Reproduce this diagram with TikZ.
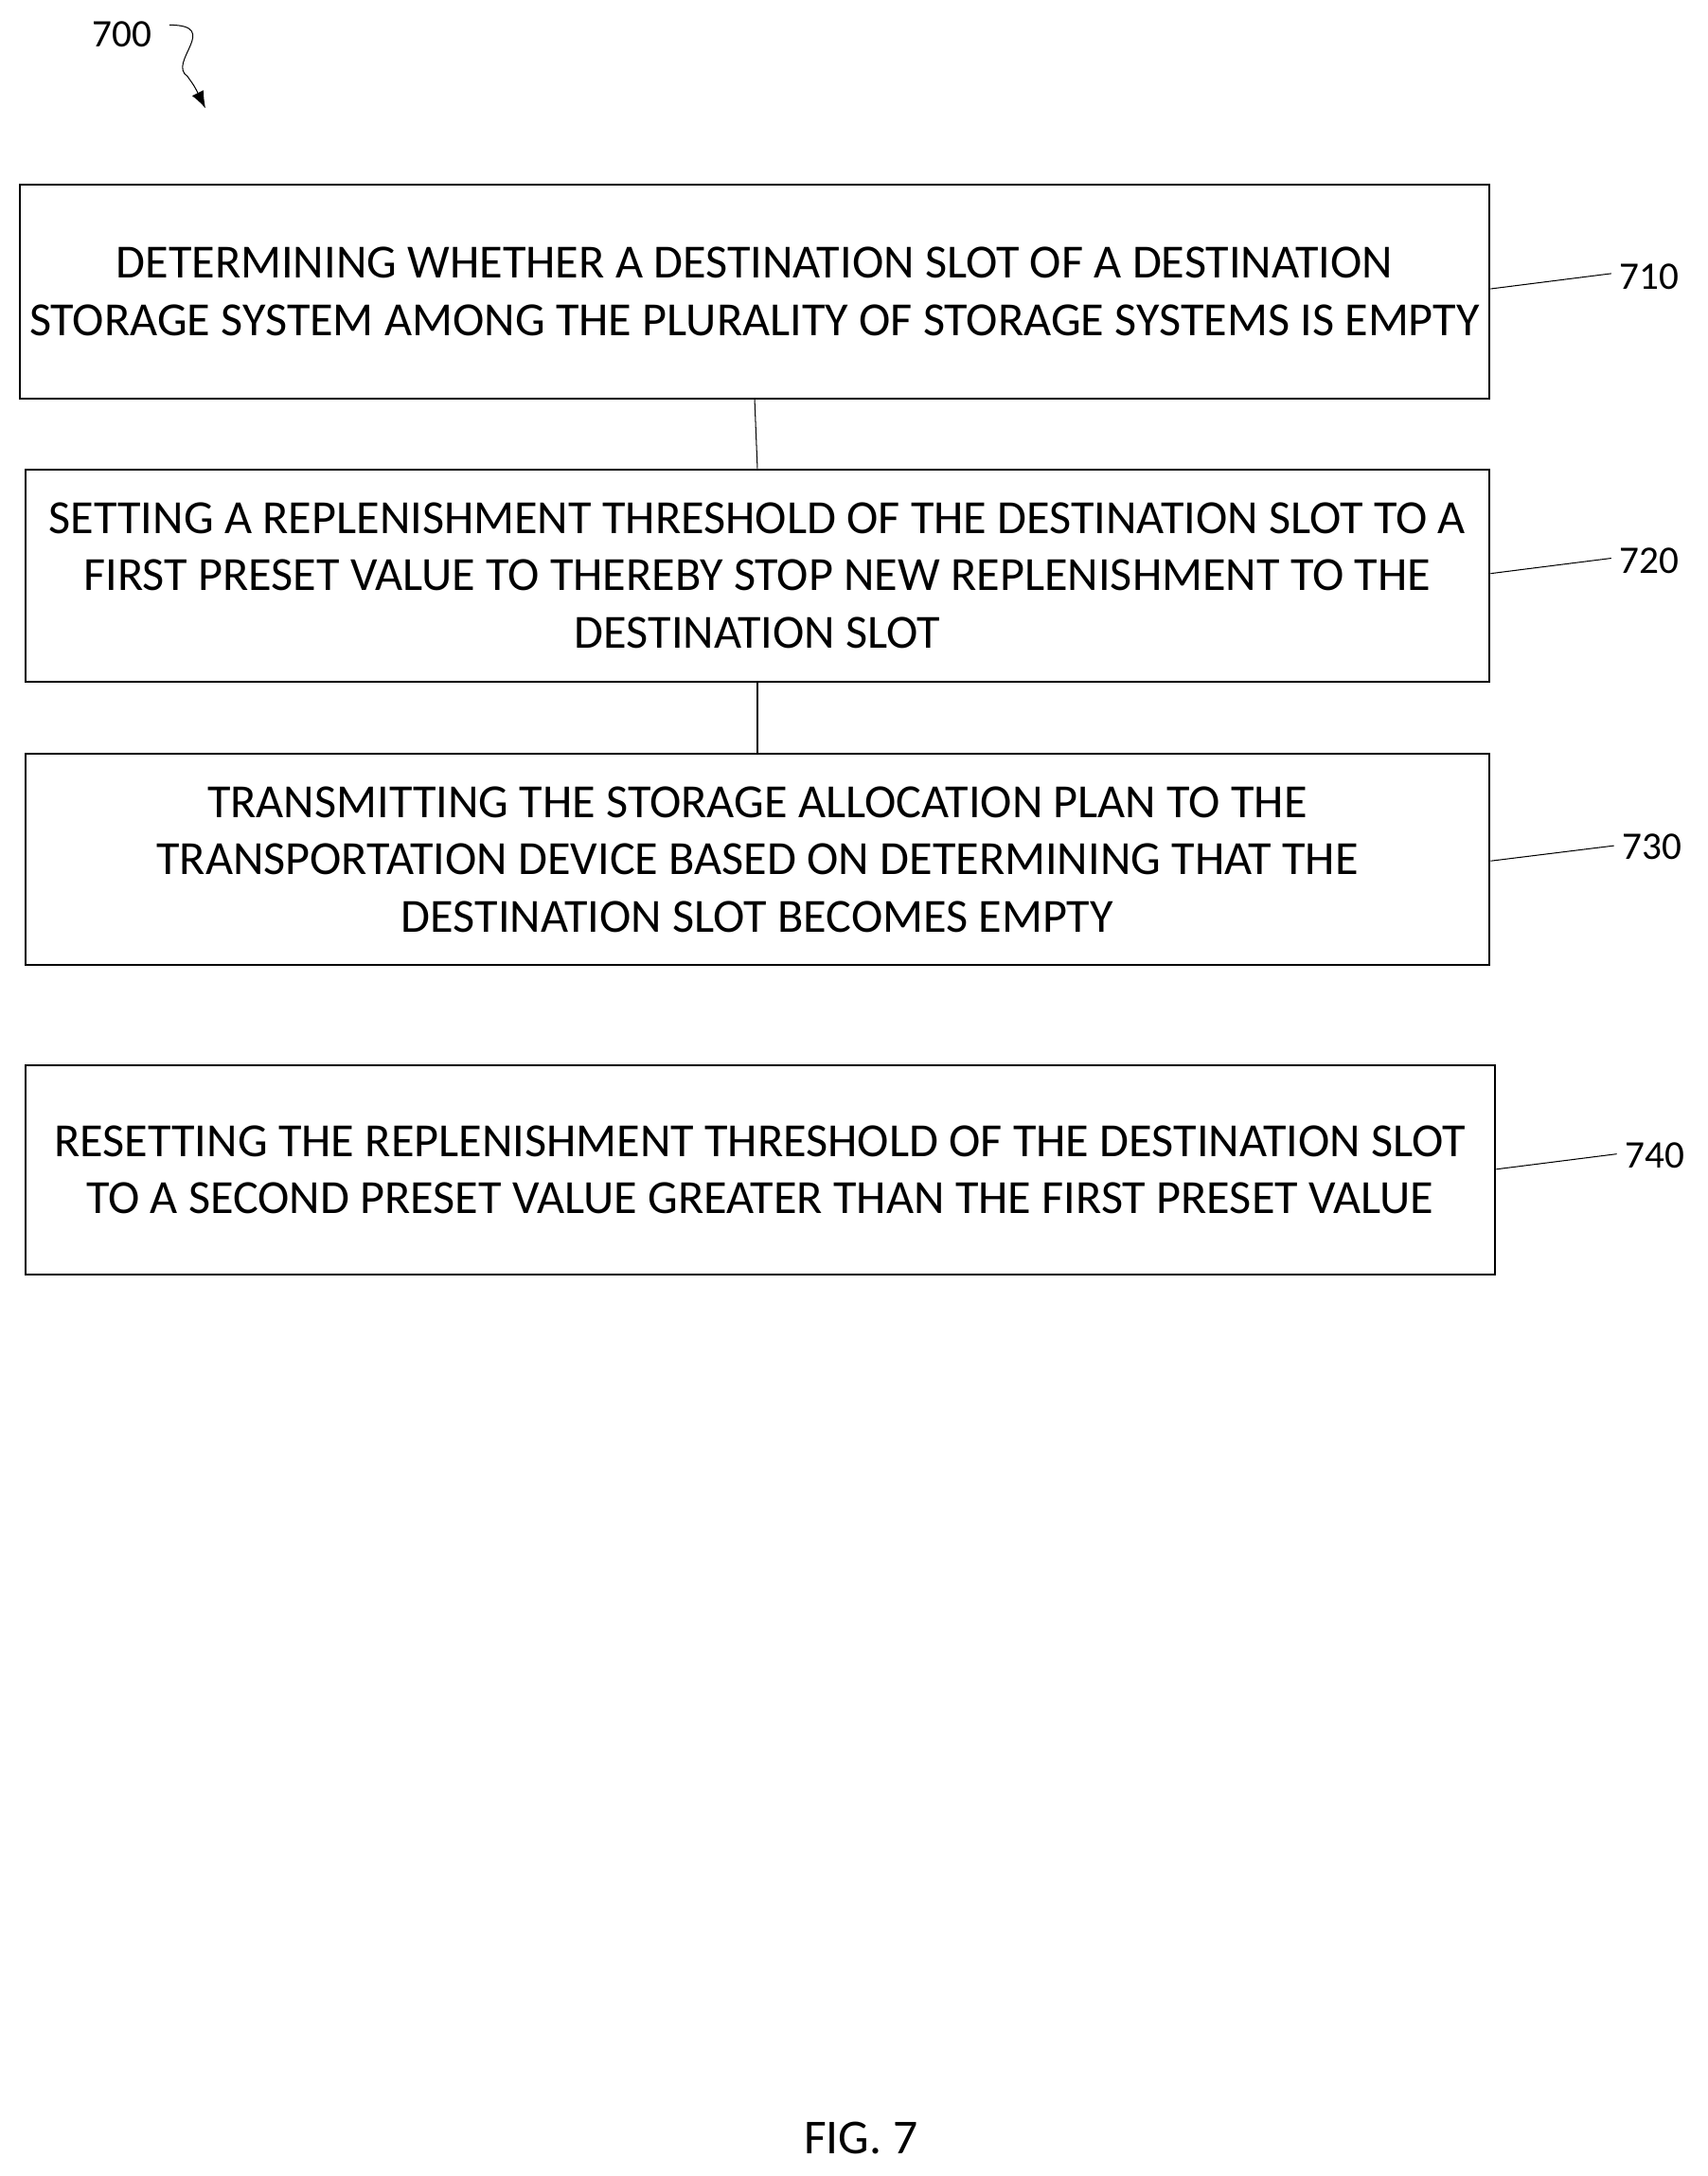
\documentclass[tikz,border=0pt]{standalone}
\usepackage{fontspec}
\setmainfont{Carlito}
\usetikzlibrary{positioning,arrows.meta}
\begin{document}
\begin{tikzpicture}[x=0.02cm,y=-0.02cm,
    stepbox/.style={draw,thick,align=center,font=\fontsize{19.5}{23.4}\selectfont,inner sep=0pt},
    reflabel/.style={font=\fontsize{16}{18}\selectfont}]
        \useasboundingbox (0,0) rectangle (1230,1567);

        \node[stepbox,minimum width=21.18cm,minimum height=3.08cm] (S710) at (543.5,210)
            {DETERMINING WHETHER A DESTINATION SLOT OF A DESTINATION\\STORAGE SYSTEM AMONG THE PLURALITY OF STORAGE SYSTEMS IS EMPTY};
        \node[stepbox,minimum width=21.10cm,minimum height=3.06cm] (S720) at (545.5,414.5)
            {SETTING A REPLENISHMENT THRESHOLD OF THE DESTINATION SLOT TO A\\FIRST PRESET VALUE TO THEREBY STOP NEW REPLENISHMENT TO THE\\DESTINATION SLOT};
        \node[stepbox,minimum width=21.10cm,minimum height=3.04cm] (S730) at (545.5,619)
            {TRANSMITTING THE STORAGE ALLOCATION PLAN TO THE\\TRANSPORTATION DEVICE BASED ON DETERMINING THAT THE\\DESTINATION SLOT BECOMES EMPTY};
        \node[stepbox,minimum width=21.18cm,minimum height=3.02cm] (S740) at (547.5,842.5)
            {RESETTING THE REPLENISHMENT THRESHOLD OF THE DESTINATION SLOT\\TO A SECOND PRESET VALUE GREATER THAN THE FIRST PRESET VALUE};

        \draw (S710.south) -- (S720.north);
        \draw (S720.south) -- (S730.north);

        \node[reflabel] (L710) at (1188,199) {710};
        \node[reflabel] (L720) at (1188,404) {720};
        \node[reflabel] (L730) at (1190,610) {730};
        \node[reflabel] (L740) at (1192,832) {740};
        \draw (S710.east |- 0,208) -- (L710.west |- 0,197);
        \draw (S720.east |- 0,413) -- (L720.west |- 0,402);
        \draw (S730.east |- 0,620) -- (L730.west |- 0,609);
        \draw (S740.east |- 0,842) -- (L740.west |- 0,831);

        \node[reflabel] (L700) at (88,25) {700};
        \coordinate (A700) at (148,78);
        \draw[-{Latex[length=7pt]}] (122,18) .. controls (160,18) and (120,45) .. (135,55) .. controls (140,62) .. (A700);

        \node[font=\fontsize{20}{24}\selectfont] (fig) at (620,1540) {FIG. 7};
\end{tikzpicture}
\end{document}
